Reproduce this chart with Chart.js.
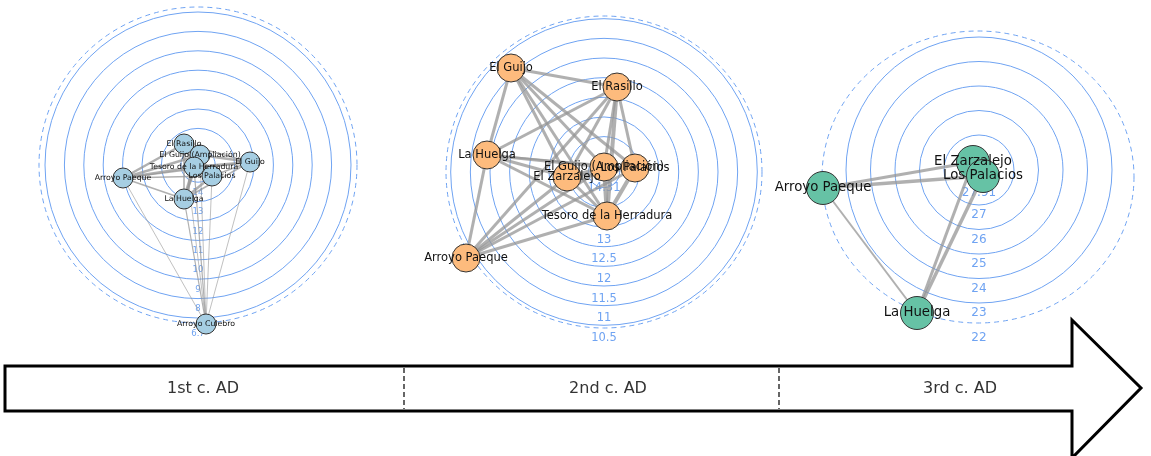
<!DOCTYPE html>
<html lang="en">
<head>
<meta charset="UTF-8">
<title>Site networks, 1st to 3rd c. AD</title>
<script src="https://cdn.jsdelivr.net/npm/chart.js"></script>
<style>
    html, body {
        margin: 0;
        padding: 0;
        background: #fff;
    }
    body {
        width: 1151px;
        height: 456px;
        position: relative;
        overflow: hidden;
        font-family: 'DejaVu Sans', sans-serif;
    }
    canvas {
        position: absolute;
    }
</style>
</head>
<body>
<canvas id="timeline" width="1151" height="156" style="left:0;top:300px"></canvas>
<canvas id="net1" width="440" height="380" style="left:-22px;top:-25px"></canvas>
<canvas id="net2" width="440" height="380" style="left:384px;top:-18px"></canvas>
<canvas id="net3" width="440" height="380" style="left:759px;top:-20px"></canvas>

<script>
// ---------- 1st c. AD ----------
const names1 = ['El Rasillo', 'El Guijo (Ampliación)', 'Tesoro de la Herradura', 'Los Palacios',
                'El Guijo', 'Arroyo Paeque', 'La Huelga', 'Arroyo Culebro'];
const posX1 = [-14, 2, -4, 14, 52, -75, -14, 8];
const posY1 = [-21, -10, 2, 11, -3, 13, 34, 159];
const edgeFrom1 = [0, 0, 0, 0, 0, 1, 1, 1, 1, 2, 2, 2, 3, 3, 4, 5, 5, 5, 5, 5, 5, 7, 7, 7, 7, 7, 7, 7];
const edgeTo1   = [1, 2, 3, 4, 6, 2, 3, 4, 6, 3, 4, 6, 4, 6, 6, 0, 1, 2, 3, 4, 6, 0, 1, 2, 3, 4, 5, 6];
const edgeW1    = [3, 3, 2, 2, 2, 4, 3, 3, 3, 3, 3, 4, 2, 3, 2, 3, 3, 3, 2, 2, 2, 1, 1, 1.5, 1, 1, 1, 1.5];
const rings1 = [15, 14, 13, 12, 11, 10, 9, 8];
const ringLabels1 = [14, 13, 12, 11, 10, 9, 8, 6.7];

// ---------- 2nd c. AD ----------
const names2 = ['El Guijo', 'El Rasillo', 'La Huelga', 'El Zarzalejo', 'El Guijo (Ampliación)',
                'Los Palacios', 'Tesoro de la Herradura', 'Arroyo Paeque'];
const posX2 = [-93, 13, -117, -37, 0, 31, 3, -138];
const posY2 = [-104, -85, -17, 5, -5, -4, 44, 86];
const edgeFrom2 = [0, 0, 0, 0, 0, 0, 1, 1, 1, 1, 1, 1, 2, 2, 2, 2, 2, 3, 3, 3, 3, 4, 4, 4, 5, 5, 6];
const edgeTo2   = [1, 2, 3, 4, 5, 6, 2, 3, 4, 5, 6, 7, 3, 4, 5, 6, 7, 4, 5, 6, 7, 5, 6, 7, 6, 7, 7];
const edgeW2    = [3, 3, 3, 3, 3, 3, 3, 3, 3, 3, 4, 3, 3, 3, 2, 3, 3, 3, 3, 3, 3, 3, 4, 3, 4, 3, 3];
const rings2 = [14.5, 14, 13.5, 13, 12.5, 12, 11.5, 11];
const ringLabels2 = [14.31, 13, 12.5, 12, 11.5, 11, 10.5];

// ---------- 3rd c. AD ----------
const names3 = ['El Zarzalejo', 'Los Palacios', 'Arroyo Paeque', 'La Huelga'];
const posX3 = [-6, 4, -156, -62];
const posY3 = [-8, 6, 18, 143];
const edgeFrom3 = [0, 0, 1, 2, 3, 3];
const edgeTo3   = [1, 2, 2, 3, 0, 1];
const edgeW3    = [3, 3, 3.5, 2, 3, 3.5];
const rings3 = [27, 26, 25, 24, 23];
const ringLabels3 = [27.91, 27, 26, 25, 24, 23, 22];

// ---------- timeline ----------
const eraNames = ['1st c. AD', '2nd c. AD', '3rd c. AD'];
const eraCentres = [203, 608, 960];
const eraBreaks = [404, 779];

const HALF_W = 220, HALF_H = 190;
const RING_COLOR = '#6fa3f2';
const EDGE_COLOR = 'rgba(150,150,150,0.75)';

function ringPlugin(p) {
    return {
        id: 'rings',
        beforeDatasetsDraw(chart) {
            const { ctx, scales: { x, y } } = chart;
            const cx = x.getPixelForValue(0), cy = y.getPixelForValue(0);
            const radius = v => p.base + (p.ref - v) * p.step;
            const toPx = r => y.getPixelForValue(r) - cy;
            ctx.save();
            ctx.strokeStyle = RING_COLOR;
            ctx.lineWidth = 1;
            p.rings.forEach(v => {
                ctx.beginPath();
                ctx.arc(cx, cy, toPx(radius(v)), 0, Math.PI * 2);
                ctx.stroke();
            });
            // outer boundary
            ctx.setLineDash([5, 4]);
            ctx.beginPath();
            ctx.ellipse(x.getPixelForValue(p.dash.dx), y.getPixelForValue(p.dash.dy),
                        toPx(p.dash.rx), toPx(p.dash.ry), 0, 0, Math.PI * 2);
            ctx.stroke();
            ctx.setLineDash([]);
            ctx.fillStyle = RING_COLOR;
            ctx.font = p.tickFont + 'px "DejaVu Sans"';
            ctx.textAlign = 'center';
            ctx.textBaseline = 'middle';
            p.labels.forEach(v => {
                ctx.fillText(String(v), cx, cy + toPx(radius(v)) + p.labelShift);
            });
            ctx.restore();
        }
    };
}

function namePlugin(names, font) {
    return {
        id: 'names',
        afterDatasetsDraw(chart) {
            const { ctx } = chart;
            const pts = chart.getDatasetMeta(0).data;
            ctx.save();
            ctx.fillStyle = '#111';
            ctx.font = font + 'px "DejaVu Sans"';
            ctx.textAlign = 'center';
            ctx.textBaseline = 'middle';
            pts.forEach((pt, i) => ctx.fillText(names[i], pt.x, pt.y));
            ctx.restore();
        }
    };
}

function drawNetwork(id, net) {
    const nodes = net.x.map((v, i) => ({ x: v, y: net.y[i] }));
    const edges = net.from.map((a, k) => ({
        data: [nodes[a], nodes[net.to[k]]],
        showLine: true,
        borderColor: EDGE_COLOR,
        borderWidth: net.w[k] * net.edgeScale,
        pointRadius: 0,
        order: 2
    }));
    new Chart(document.getElementById(id), {
        type: 'scatter',
        data: {
            datasets: [{
                data: nodes,
                pointRadius: net.nodeSize,
                pointBackgroundColor: net.color,
                pointBorderColor: '#333',
                pointBorderWidth: 1,
                order: 1
            }, ...edges]
        },
        options: {
            responsive: false,
            animation: false,
            events: [],
            layout: { padding: 0, autoPadding: false },
            scales: {
                x: { min: -HALF_W, max: HALF_W, display: false },
                y: { min: -HALF_H, max: HALF_H, reverse: true, display: false }
            },
            plugins: { legend: { display: false }, tooltip: { enabled: false } }
        },
        plugins: [ringPlugin(net.ring), namePlugin(net.names, net.font)]
    });
}

drawNetwork('net1', {
    names: names1, x: posX1, y: posY1, from: edgeFrom1, to: edgeTo1, w: edgeW1,
    color: '#a6cee3', nodeSize: 10, edgeScale: 0.8, font: 7.8,
    ring: { rings: rings1, labels: ringLabels1, ref: 8, base: 153, step: 19.4,
            labelShift: -9, tickFont: 8.5, dash: { dx: 0, dy: 0, rx: 159, ry: 158 } }
});

drawNetwork('net2', {
    names: names2, x: posX2, y: posY2, from: edgeFrom2, to: edgeTo2, w: edgeW2,
    color: '#fdbb7d', nodeSize: 14, edgeScale: 1, font: 11.5,
    ring: { rings: rings2, labels: ringLabels2, ref: 12, base: 114, step: 39.3,
            labelShift: -7, tickFont: 11.5, dash: { dx: 0, dy: 0, rx: 158, ry: 156 } }
});

drawNetwork('net3', {
    names: names3, x: posX3, y: posY3, from: edgeFrom3, to: edgeTo3, w: edgeW3,
    color: '#66c2a5', nodeSize: 16.5, edgeScale: 1, font: 13.3,
    ring: { rings: rings3, labels: ringLabels3, ref: 27, base: 35, step: 24.5,
            labelShift: 10, tickFont: 12, dash: { dx: -1, dy: 7, rx: 156, ry: 146 } }
});

// timeline arrow
const arrowPlugin = {
    id: 'arrow',
    afterDraw(chart) {
        const { ctx, scales: { x, y } } = chart;
        const X = v => x.getPixelForValue(v), Y = v => y.getPixelForValue(v);
        ctx.save();
        ctx.strokeStyle = '#000';
        ctx.lineWidth = 3;
        ctx.lineJoin = 'miter';
        ctx.beginPath();
        ctx.moveTo(X(5), Y(66));
        ctx.lineTo(X(1072), Y(66));
        ctx.lineTo(X(1072), Y(20));
        ctx.lineTo(X(1141), Y(88));
        ctx.lineTo(X(1072), Y(158));
        ctx.lineTo(X(1072), Y(111));
        ctx.lineTo(X(5), Y(111));
        ctx.closePath();
        ctx.stroke();
        ctx.lineWidth = 1.2;
        ctx.setLineDash([5, 3]);
        eraBreaks.forEach(b => {
            ctx.beginPath();
            ctx.moveTo(X(b), Y(68));
            ctx.lineTo(X(b), Y(109));
            ctx.stroke();
        });
        ctx.setLineDash([]);
        ctx.fillStyle = '#333';
        ctx.font = '16px "DejaVu Sans"';
        ctx.textAlign = 'center';
        ctx.textBaseline = 'middle';
        eraNames.forEach((n, i) => ctx.fillText(n, X(eraCentres[i]), Y(89)));
        ctx.restore();
    }
};

new Chart(document.getElementById('timeline'), {
    type: 'scatter',
    data: { datasets: [{ data: [] }] },
    options: {
        responsive: false,
        animation: false,
        events: [],
        layout: { padding: 0, autoPadding: false },
        scales: {
            x: { min: 0, max: 1151, display: false },
            y: { min: 0, max: 156, reverse: true, display: false }
        },
        plugins: { legend: { display: false }, tooltip: { enabled: false } }
    },
    plugins: [arrowPlugin]
});
</script>
</body>
</html>
